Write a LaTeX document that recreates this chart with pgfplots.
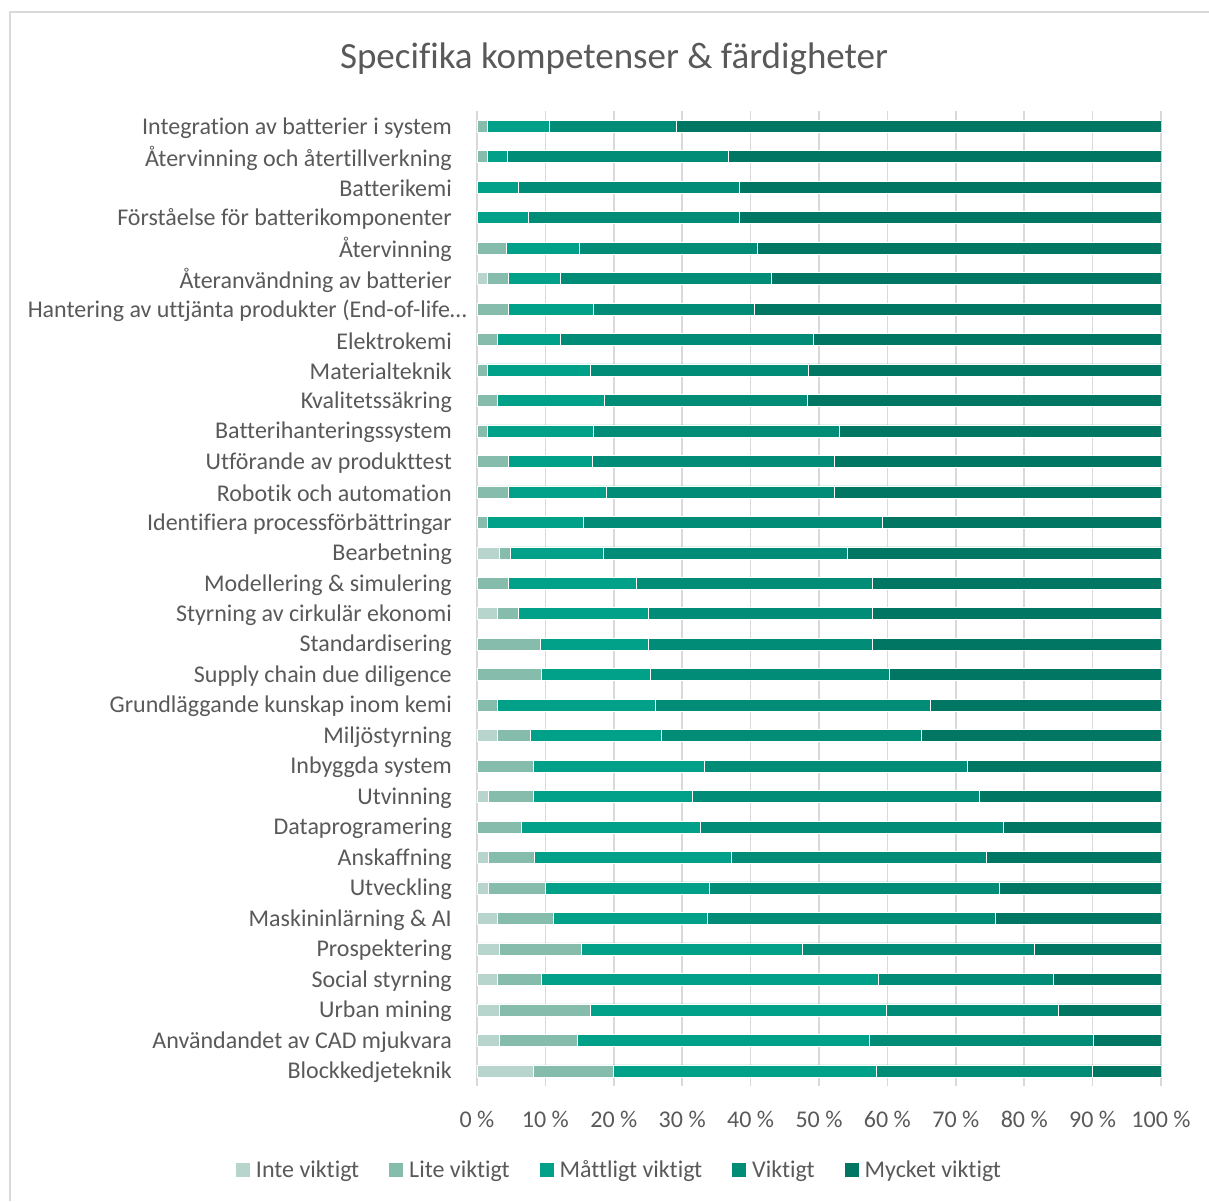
\documentclass[border=0pt]{standalone}
\usepackage{pgfplots}
\pgfplotsset{compat=1.18}
\usepackage{pgfplotstable}
\usepackage{fontspec}
\setmainfont{Carlito}[Ligatures=NoCommon]

\definecolor{txt}{HTML}{595959}
\definecolor{gridc}{HTML}{D9D9D9}
\definecolor{cinte}{HTML}{B7D5CD}
\definecolor{clite}{HTML}{86BCAC}
\definecolor{cmatt}{HTML}{00A188}
\definecolor{cvikt}{HTML}{008C76}
\definecolor{cmyck}{HTML}{007663}

% shares in percent, top row first
\pgfplotstableread{
y inte lite matt vikt myck
0  0   1.5  9.1 18.5 70.9
1  0   1.5  2.9 32.4 63.2
2  0   0    6.1 32.3 61.6
3  0   0    7.5 30.9 61.6
4  0   4.3 10.7 25.9 59.1
5  1.5 3.0  7.7 30.8 57.0
6  0   4.6 12.4 23.5 59.5
7  0   2.9  9.3 37.0 50.8
8  0   1.5 15.1 31.8 51.6
9  0   3.0 15.6 29.7 51.7
10 0   1.5 15.5 36.0 47.0
11 0   4.5 12.3 35.5 47.7
12 0   4.6 14.3 33.4 47.7
13 0   1.5 14.1 43.7 40.7
14 3.3 1.6 13.6 35.7 45.8
15 0   4.6 18.7 34.5 42.2
16 3.0 3.1 18.9 32.8 42.2
17 0   9.3 15.7 32.8 42.2
18 0   9.4 15.9 35.0 39.7
19 0   2.9 23.2 40.1 33.8
20 3.0 4.8 19.1 38.1 35.0
21 0   8.2 25.0 38.4 28.4
22 1.6 6.6 23.3 41.9 26.6
23 0   6.4 26.2 44.4 23.0
24 1.6 6.7 28.9 37.3 25.5
25 1.6 8.4 23.9 42.4 23.7
26 3.0 8.2 22.5 42.1 24.2
27 3.3 11.9 32.3 33.9 18.6
28 3.0 6.4 49.3 25.5 15.8
29 3.2 13.4 43.3 25.1 15.0
30 3.2 11.4 42.7 32.8 9.9
31 8.2 11.7 38.4 31.6 10.1
}\data

\begin{document}
\begin{tikzpicture}
\path[use as bounding box] (0,0) rectangle (1209pt,1201pt);
% chart frame (only left and top edges are visible)
\draw[gridc, line width=2pt] (10pt,0) -- (10pt,1189pt) -- (1209pt,1189pt);

\node[txt, font=\fontsize{37}{44}\selectfont] at (614pt,1142pt) {Specifika kompetenser \& färdigheter};

\begin{axis}[
  at={(477pt,115pt)}, anchor=south west,
  scale only axis,
  width=684pt, height=975pt,
  xbar stacked,
  bar width=12pt,
  y dir=reverse,
  xmin=0, xmax=100,
  ymin=-0.5, ymax=31.5,
  xtick={0,10,...,100},
  xticklabels={0 \%,10 \%,20 \%,30 \%,40 \%,50 \%,60 \%,70 \%,80 \%,90 \%,100 \%},
  ytick={0,...,31},
  yticklabels={
    Integration av batterier i system,
    Återvinning och återtillverkning,
    Batterikemi,
    Förståelse för batterikomponenter,
    Återvinning,
    {Återanvändning av batterier\ },
    {Hantering av uttjänta produkter (End-of-life…\hspace*{-15pt}},
    Elektrokemi,
    Materialteknik,
    Kvalitetssäkring,
    Batterihanteringssystem,
    Utförande av produkttest,
    Robotik och automation,
    Identifiera processförbättringar,
    Bearbetning,
    Modellering \& simulering,
    Styrning av cirkulär ekonomi,
    Standardisering,
    Supply chain due diligence,
    Grundläggande kunskap inom kemi,
    Miljöstyrning,
    Inbyggda system,
    Utvinning,
    Dataprogramering,
    Anskaffning,
    {Utveckling\ },
    Maskininlärning \& AI,
    Prospektering,
    Social styrning,
    Urban mining,
    Användandet av CAD mjukvara,
    Blockkedjeteknik},
  major tick length=0pt,
  axis line style={draw=none},
  xmajorgrids=true,
  grid style={gridc, line width=1.5pt},
  ticklabel style={txt, font=\fontsize{24}{28}\selectfont},
  yticklabel style={inner sep=0pt, xshift=-25pt, yshift=-1.5pt},
  xticklabel style={inner sep=0pt, yshift=-25pt},
  every axis plot/.append style={draw=white, line width=0.5pt},
  legend style={at={(axis description cs:0.2083,-0.0862)}, anchor=center,
    draw=none, fill=none, legend columns=5,
    font=\fontsize{24}{28}\selectfont, text=txt,
    /tikz/every odd column/.append style={column sep=4pt},
    /tikz/every even column/.append style={column sep=28pt}},
  legend image code/.code={\draw[#1, draw=none] (0pt,-7pt) rectangle (14pt,7pt);},
  legend cell align=left,
]
\addplot[fill=cinte] table[x=inte, y=y] {\data};
\addplot[fill=clite] table[x=lite, y=y] {\data};
\addplot[fill=cmatt] table[x=matt, y=y] {\data};
\addplot[fill=cvikt] table[x=vikt, y=y] {\data};
\addplot[fill=cmyck] table[x=myck, y=y] {\data};
\legend{Inte viktigt, Lite viktigt, Måttligt viktigt, Viktigt, Mycket viktigt}
\end{axis}
\end{tikzpicture}
\end{document}
